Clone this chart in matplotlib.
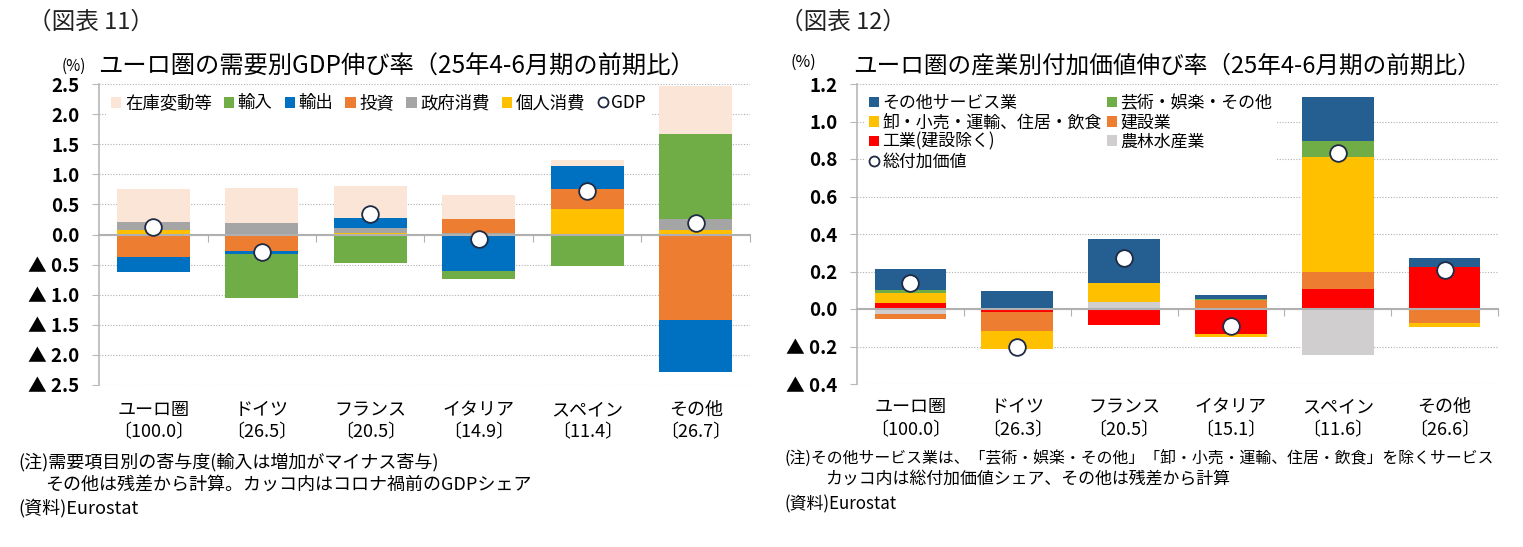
import matplotlib
matplotlib.use('Agg')
import matplotlib.pyplot as plt
import matplotlib.transforms as mtransforms
import numpy as np

plt.rcParams['font.family'] = ['Noto Sans CJK JP', 'DejaVu Sans']

# ---- data: chart 11 (demand components, contribution, %pt) ----
names = ['ユーロ圏', 'ドイツ', 'フランス', 'イタリア', 'スペイン', 'その他']
shares_gdp = ['〔100.0〕', '〔26.5〕', '〔20.5〕', '〔14.9〕', '〔11.4〕', '〔26.7〕']

# stacked from zero outward in this order
consumption = [0.08, 0.0, 0.02, 0.0, 0.43, 0.07]      # 個人消費
government = [0.13, 0.19, 0.09, 0.03, 0.0, 0.18]      # 政府消費
investment = [-0.38, -0.27, 0.0, 0.23, 0.33, -1.42]   # 投資
exports = [-0.25, -0.06, 0.17, -0.60, 0.38, -0.87]    # 輸出
imports = [0.0, -0.73, -0.48, -0.14, -0.52, 1.42]     # 輸入
inventory = [0.54, 0.58, 0.52, 0.39, 0.10, 0.80]      # 在庫変動等
gdp = [0.12, -0.29, 0.34, -0.08, 0.73, 0.19]

# ---- data: chart 12 (industries, contribution, %pt) ----
shares_gva = ['〔100.0〕', '〔26.3〕', '〔20.5〕', '〔15.1〕', '〔11.6〕', '〔26.6〕']
agri = [-0.027, 0.0, 0.04, 0.0, -0.247, 0.0]           # 農林水産業
industry = [0.03, -0.014, -0.085, -0.135, 0.109, 0.226]  # 工業(建設除く)
construction = [-0.025, -0.103, 0.0, 0.05, 0.089, -0.075]  # 建設業
trade = [0.057, -0.094, 0.099, -0.013, 0.612, -0.023]  # 卸・小売・運輸、住居・飲食
arts = [0.013, 0.0, 0.0, 0.005, 0.085, 0.0]            # 芸術・娯楽・その他
other_serv = [0.115, 0.096, 0.236, 0.018, 0.235, 0.046]  # その他サービス業
gva = [0.14, -0.20, 0.27, -0.09, 0.83, 0.21]

W, H = 1523, 547
fig = plt.figure(figsize=(W / 100, H / 100), dpi=100)


def px_ax(l, t, r, b):
    return fig.add_axes([l / W, 1 - b / H, (r - l) / W, (b - t) / H])


def stack(ax, series, colors, labels):
    x = np.arange(len(names))
    pos = np.zeros(len(x))
    neg = np.zeros(len(x))
    handles = {}
    for vals, c, lab in zip(series, colors, labels):
        v = np.array(vals, dtype=float)
        bottom = np.where(v >= 0, pos, neg)
        h = ax.bar(x, v, 0.67, bottom=bottom, color=c, zorder=2, linewidth=0)
        handles[lab] = h
        pos = pos + np.where(v > 0, v, 0)
        neg = neg + np.where(v < 0, v, 0)
    return handles


def style(ax, lo, hi, step, nd):
    ax.set_xlim(-0.5, 5.5)
    ax.set_ylim(lo, hi)
    ticks = np.round(np.arange(lo, hi + step / 2, step), 2)
    ax.set_yticks(ticks)
    labs = []
    for t in ticks:
        if t < -1e-9:
            labs.append('▲ ' + f'{-t:.{nd}f}')
        else:
            labs.append(f'{abs(t):.{nd}f}')
    ax.set_yticklabels(labs, fontsize=13.5, fontweight='bold')
    ax.yaxis.grid(True, linestyle=(0, (1, 1.5)), color='#b0b0b0', linewidth=0.8)
    ax.set_axisbelow(True)
    for s in ['top', 'right']:
        ax.spines[s].set_visible(False)
    ax.spines['left'].set_color('#b8b8b8')
    ax.spines['left'].set_linewidth(1.2)
    ax.spines['bottom'].set_position(('data', 0))
    ax.spines['bottom'].set_color('#b0b0b0')
    ax.spines['bottom'].set_linewidth(1.5)
    ax.spines['bottom'].set_zorder(2.5)
    ax.set_xticks(np.arange(0.5, 6, 1))
    ax.set_xticklabels([])
    ax.tick_params(axis='x', direction='out', length=5, color='#b0b0b0')
    ax.tick_params(axis='y', direction='out', length=5, color='#b8b8b8', pad=9)


# ================= chart 11 =================
ax1 = px_ax(99, 84, 750, 385)
cols1 = ['#ffc000', '#a5a5a5', '#ed7d31', '#0070c0', '#70ad47', '#fbe5d6']
labs1 = ['個人消費', '政府消費', '投資', '輸出', '輸入', '在庫変動等']
h1 = stack(ax1, [consumption, government, investment, exports, imports, inventory], cols1, labs1)
m1, = ax1.plot(np.arange(6), gdp, 'o', ms=12, mfc='white', mec='#1f2a44', mew=1.3, zorder=4, label='GDP')
style(ax1, -2.5, 2.5, 0.5, 1)
order1 = ['在庫変動等', '輸入', '輸出', '投資', '政府消費', '個人消費']
ax1.legend([h1[k] for k in order1] + [m1], order1 + ['GDP'], loc='upper left',
           bbox_to_anchor=(0.005, 0.995), ncol=7, fontsize=12.5, frameon=True,
           facecolor='white', edgecolor='none', framealpha=1, handlelength=0.6,
           handleheight=0.6, handletextpad=0.2, columnspacing=0.7, markerscale=0.6,
           borderpad=0.3, borderaxespad=0.2)

tr1 = mtransforms.blended_transform_factory(ax1.transData, fig.transFigure)
for i in range(6):
    ax1.text(i, 1 - 410 / H, names[i], transform=tr1, ha='center', va='center', fontsize=13)
    ax1.text(i, 1 - 432 / H, shares_gdp[i], transform=tr1, ha='center', va='center', fontsize=13)

fig.text(28 / W, 1 - 22 / H, '（図表 11）', fontsize=17, va='center', ha='left', color='#222222')
fig.text(62 / W, 1 - 66 / H, '(%)', fontsize=11, va='center', ha='left')
fig.text(98 / W, 1 - 67 / H, 'ユーロ圏の需要別GDP伸び率（25年4-6月期の前期比）', fontsize=17.5,
         va='center', ha='left')
fig.text(18 / W, 1 - 462 / H, '(注)需要項目別の寄与度(輸入は増加がマイナス寄与)', fontsize=13, va='center')
fig.text(45 / W, 1 - 485 / H, 'その他は残差から計算。カッコ内はコロナ禍前のGDPシェア', fontsize=13, va='center')
fig.text(18 / W, 1 - 508 / H, '(資料)Eurostat', fontsize=13, va='center')

# ================= chart 12 =================
ax2 = px_ax(857, 84, 1498, 384)
cols2 = ['#d0cece', '#ff0000', '#ed7d31', '#ffc000', '#70ad47', '#255e91']
labs2 = ['農林水産業', '工業(建設除く)', '建設業', '卸・小売・運輸、住居・飲食', '芸術・娯楽・その他', 'その他サービス業']
h2 = stack(ax2, [agri, industry, construction, trade, arts, other_serv], cols2, labs2)
m2, = ax2.plot(np.arange(6), gva, 'o', ms=12, mfc='white', mec='#1f2a44', mew=1.3, zorder=4, label='総付加価値')
style(ax2, -0.4, 1.2, 0.2, 1)
ax2.set_yticks(np.round(np.arange(-0.4, 1.21, 0.2), 2))
ax2.set_yticklabels(['▲ 0.4', '▲ 0.2', '0.0', '0.2', '0.4', '0.6', '0.8', '1.0', '1.2'],
                    fontsize=13.5, fontweight='bold')
left_col = ['その他サービス業', '卸・小売・運輸、住居・飲食', '工業(建設除く)']
right_col = ['芸術・娯楽・その他', '建設業', '農林水産業']
ax2.legend([h2[k] for k in left_col] + [m2] + [h2[k] for k in right_col],
           left_col + ['総付加価値'] + right_col, loc='upper left',
           bbox_to_anchor=(0.005, 0.995), ncol=2, fontsize=12.2, frameon=True,
           facecolor='white', edgecolor='none', framealpha=1, handlelength=0.6,
           handleheight=0.6, handletextpad=0.2, columnspacing=0.3, markerscale=0.6,
           labelspacing=0.08, borderpad=0.3, borderaxespad=0.2)

tr2 = mtransforms.blended_transform_factory(ax2.transData, fig.transFigure)
for i in range(6):
    ax2.text(i, 1 - 407 / H, names[i], transform=tr2, ha='center', va='center', fontsize=13)
    ax2.text(i, 1 - 430 / H, shares_gva[i], transform=tr2, ha='center', va='center', fontsize=13)

fig.text(780 / W, 1 - 22 / H, '（図表 12）', fontsize=17, va='center', ha='left', color='#222222')
fig.text(790 / W, 1 - 62 / H, '(%)', fontsize=11.5, va='center', ha='left')
fig.text(853 / W, 1 - 66 / H, 'ユーロ圏の産業別付加価値伸び率（25年4-6月期の前期比）', fontsize=17,
         va='center', ha='left')
fig.text(785 / W, 1 - 458 / H, '(注)その他サービス業は、「芸術・娯楽・その他」「卸・小売・運輸、住居・飲食」を除くサービス',
         fontsize=11.4, va='center')
fig.text(825 / W, 1 - 480 / H, 'カッコ内は総付加価値シェア、その他は残差から計算', fontsize=12.2, va='center')
fig.text(785 / W, 1 - 504 / H, '(資料)Eurostat', fontsize=12.2, va='center')

fig.savefig('out.png', dpi=100)
